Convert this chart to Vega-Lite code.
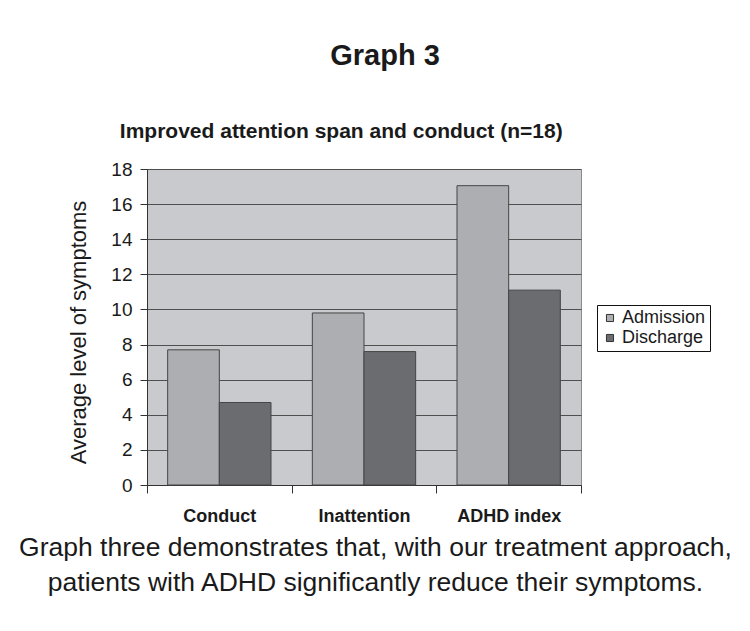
{
  "$schema": "https://vega.github.io/schema/vega-lite/v6.json",
  "width": 434,
  "height": 316,
  "autosize": "none",
  "padding": {"left": 147, "top": 169, "right": 169, "bottom": 146},
  "background": "white",
  "title": {
    "text": "Graph 3",
    "subtitle": "Improved attention span and conduct (n=18)\u00a0\u00a0\u00a0\u00a0\u00a0\u00a0\u00a0\u00a0\u00a0\u00a0\u00a0\u00a0\u00a0\u00a0\u00a0\u200b",
    "anchor": "middle",
    "dx": 21,
    "font": "Liberation Sans, Arial",
    "fontSize": 29,
    "fontWeight": "bold",
    "color": "#1a1a1a",
    "subtitleFont": "Liberation Sans, Arial",
    "subtitleFontSize": 21,
    "subtitleFontWeight": "bold",
    "subtitleColor": "#1a1a1a",
    "subtitlePadding": 50,
    "offset": 18
  },
  "data": {
    "values": [
      {"category": "Conduct", "series": "Admission", "value": 7.7},
      {"category": "Conduct", "series": "Discharge", "value": 4.7},
      {"category": "Inattention", "series": "Admission", "value": 9.8},
      {"category": "Inattention", "series": "Discharge", "value": 7.6},
      {"category": "ADHD index", "series": "Admission", "value": 17.05},
      {"category": "ADHD index", "series": "Discharge", "value": 11.1}
    ]
  },
  "mark": {"type": "bar", "stroke": "#454545", "strokeWidth": 1},
  "encoding": {
    "x": {
      "field": "category",
      "type": "nominal",
      "sort": ["Conduct", "Inattention", "ADHD index"],
      "scale": {"paddingInner": 0, "paddingOuter": 0},
      "axis": {
        "labelAngle": 0,
        "labelFont": "Liberation Sans, Arial",
        "labelFontSize": 18,
        "labelFontWeight": "bold",
        "labelColor": "#1a1a1a",
        "labelPadding": 14,
        "tickBand": "extent",
        "tickSize": 8,
        "tickColor": "#333",
        "domainColor": "#333",
        "title": ["Graph three demonstrates that, with our treatment approach,", "patients with ADHD significantly reduce their symptoms."],
        "titleFont": "Liberation Sans, Arial",
        "titleFontSize": 26.5,
        "titleFontWeight": "normal",
        "titleColor": "#1a1a1a",
        "titleLineHeight": 35,
        "titlePadding": 9,
        "titleX": 228
      }
    },
    "xOffset": {
      "field": "series",
      "type": "nominal",
      "sort": ["Admission", "Discharge"],
      "scale": {"paddingInner": 0, "paddingOuter": 0.4}
    },
    "y": {
      "field": "value",
      "type": "quantitative",
      "scale": {"domain": [0, 18], "nice": false},
      "axis": {
        "values": [0, 2, 4, 6, 8, 10, 12, 14, 16, 18],
        "grid": true,
        "gridColor": "#4f4f4f",
        "gridWidth": 1,
        "gridOpacity": 1,
        "domainColor": "#333",
        "tickColor": "#333",
        "tickSize": 7,
        "labelFont": "Liberation Sans, Arial",
        "labelFontSize": 19,
        "labelColor": "#1a1a1a",
        "labelPadding": 8,
        "title": "Average level of symptoms",
        "titleFont": "Liberation Sans, Arial",
        "titleFontSize": 22,
        "titleFontWeight": "normal",
        "titleColor": "#1a1a1a",
        "titlePadding": 20,
        "titleY": 163
      }
    },
    "color": {
      "field": "series",
      "type": "nominal",
      "scale": {"domain": ["Admission", "Discharge"], "range": ["#adaeb2", "#6b6c70"]},
      "legend": {
        "orient": "none",
        "legendX": 450,
        "legendY": 136,
        "title": null,
        "strokeColor": "#111",
        "fillColor": "white",
        "padding": 4,
        "symbolType": "square",
        "symbolSize": 50,
        "symbolStrokeColor": "#333",
        "symbolStrokeWidth": 1,
        "labelOffset": 3,
        "labelFont": "Liberation Sans, Arial",
        "labelFontSize": 18,
        "labelColor": "#1a1a1a",
        "rowPadding": 2
      }
    }
  },
  "config": {
    "view": {"fill": "#c9cacd", "stroke": "#8a8a8a", "strokeWidth": 1}
  }
}
